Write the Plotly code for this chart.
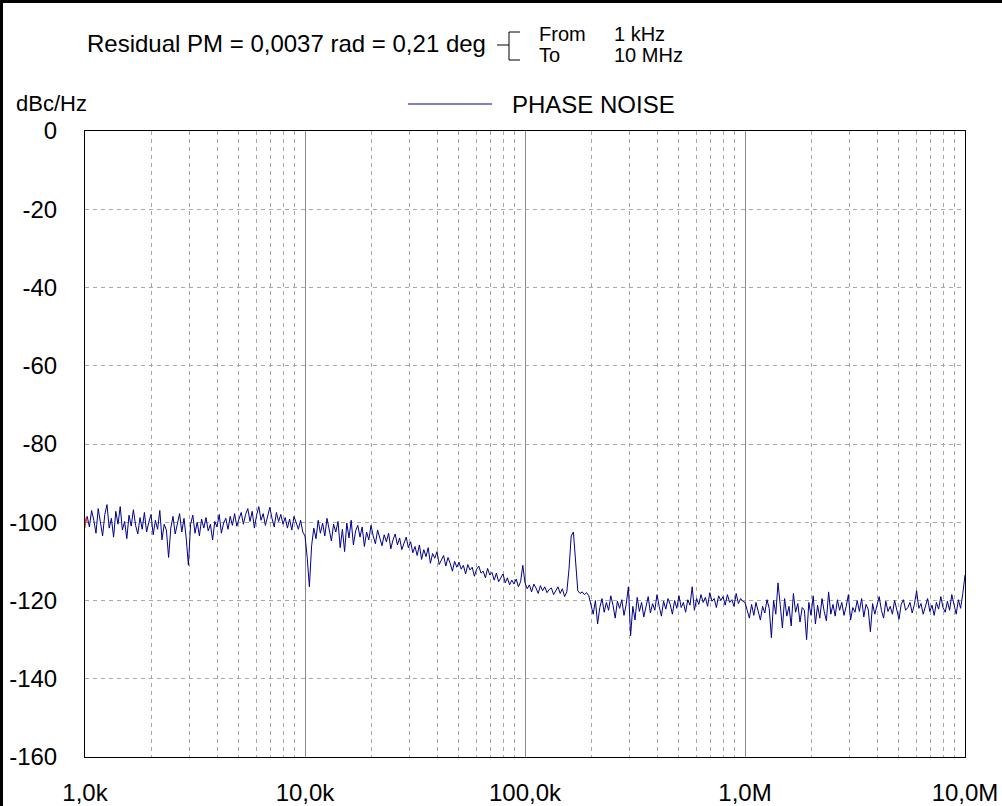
import numpy as np
import plotly.graph_objects as go

# ---------------- data ----------------
# one list of dBc/Hz values per decade, 100 samples per decade (log-spaced sweep)
dec1_1k_10k = [
    -100.0, -98.5, -101.2, -97.0, -99.5, -102.8, -96.5, -100.2, -103.5, -98.0,
    -95.5, -101.5, -99.0, -103.8, -97.2, -100.5, -96.0, -102.0, -99.8, -104.2,
    -98.2, -101.0, -96.8, -100.8, -103.0, -98.8, -101.8, -97.5, -102.5, -100.0,
    -98.0, -103.2, -99.5, -101.8, -97.0, -104.5, -100.5, -102.0, -109.0, -101.5,
    -98.5, -103.0, -100.2, -97.8, -102.5, -99.0, -104.0, -111.0, -100.5, -98.2,
    -102.8, -100.0, -103.5, -99.2, -101.5, -98.8, -102.2, -100.5, -104.5, -99.8,
    -101.2, -98.0, -102.8, -100.2, -99.0, -101.8, -98.5, -100.8, -97.8, -101.0,
    -99.2, -97.5, -100.5, -98.0, -96.5, -99.8, -97.2, -101.5, -98.2, -96.0,
    -99.5, -97.8, -100.8, -98.5, -96.2, -99.0, -101.2, -97.5, -99.8, -98.0,
    -100.5, -98.8, -101.5, -99.2, -102.0, -98.5, -100.2, -101.8, -99.5, -102.5,
]
dec2_10k_100k = [
    -103.5, -109.0, -116.5, -106.0, -101.5, -104.2, -99.5, -102.8, -100.2, -103.5,
    -99.0, -102.0, -104.8, -100.5, -102.5, -99.8, -106.5, -101.8, -107.5, -100.2,
    -104.0, -99.5, -105.8, -102.2, -100.8, -103.8, -101.2, -106.2, -102.5, -104.5,
    -100.8, -103.5, -105.5, -102.0, -104.2, -106.0, -103.2, -105.0, -102.8, -106.8,
    -104.5, -103.0, -105.8, -104.0, -107.0, -105.2, -103.8, -106.5, -105.0, -107.8,
    -106.2, -108.5, -105.8, -109.5, -107.0, -108.8, -106.5, -110.5, -108.0, -109.2,
    -107.5, -110.8, -109.8, -108.5, -111.2, -109.0, -110.5, -112.5, -110.0, -111.5,
    -110.2, -112.0, -111.0, -113.2, -110.8, -112.2, -111.5, -113.8, -112.0, -111.2,
    -113.0, -112.5, -114.2, -111.8, -113.5, -112.8, -114.8, -113.0, -115.2, -114.0,
    -113.2, -115.5, -114.2, -116.0, -114.8, -115.8, -114.5, -116.5, -115.2, -111.0,
]
dec3_100k_1M = [
    -115.5, -117.0, -116.0, -117.8, -115.8, -116.8, -118.2, -116.2, -117.5, -116.5,
    -118.0, -117.2, -116.8, -118.5, -117.5, -116.5, -118.2, -117.0, -119.0, -117.8,
    -112.0, -103.5, -102.5, -110.0, -117.5, -118.2, -117.8, -118.5, -118.0, -118.8,
    -121.5, -123.5, -120.0, -126.0, -121.8, -119.5, -123.0, -120.5, -122.5, -118.8,
    -121.2, -124.5, -120.2, -122.0, -119.8, -123.8, -121.0, -116.5, -129.0, -121.5,
    -125.0, -119.2, -122.8, -120.5, -124.2, -121.8, -119.0, -123.2, -120.8, -122.5,
    -118.5, -121.5, -124.0, -120.2, -122.2, -119.5, -121.0, -123.5, -120.0, -122.0,
    -118.8, -121.8, -120.5, -123.0, -119.8, -121.2, -116.5, -122.5, -119.5, -121.0,
    -118.5, -120.5, -119.2, -121.5, -118.0, -120.2, -119.5, -121.8, -118.8, -120.0,
    -119.0, -121.2, -118.5, -120.5, -119.8, -121.5, -118.2, -120.8, -119.5, -120.2,
]
dec4_1M_10M = [
    -120.5, -122.5, -124.5, -121.0, -123.8, -120.5, -122.8, -125.0, -121.5, -123.2,
    -119.8, -122.0, -129.5, -120.0, -123.5, -115.5, -121.0, -127.0, -119.5, -124.0,
    -121.5, -126.5, -118.2, -123.0, -120.8, -125.5, -121.8, -122.5, -130.0, -120.5,
    -123.8, -118.8, -126.0, -121.2, -124.5, -119.5, -122.8, -125.2, -117.8, -123.5,
    -121.0, -124.0, -119.8, -122.5, -120.5, -123.8, -121.5, -118.5, -125.0, -121.8,
    -123.0, -120.0, -122.8, -119.5, -124.2, -121.0, -122.2, -128.0, -120.8, -123.5,
    -121.2, -119.0, -122.5, -124.5, -120.2, -122.8, -121.5, -123.5, -120.0, -122.2,
    -124.8, -121.0, -119.8, -122.5, -121.8, -120.5, -123.2, -121.0, -117.5, -122.0,
    -120.8, -123.5, -121.5, -119.5, -122.8, -121.2, -123.8, -120.5, -122.2, -119.0,
    -121.8, -123.0, -120.2, -122.5, -118.5, -121.5, -123.5, -119.8, -122.0, -118.2,
    -113.5,
]
phase_noise = dec1_1k_10k + dec2_10k_100k + dec3_100k_1M + dec4_1M_10M
freq = np.logspace(3, 7, len(phase_noise))  # sweep 1 kHz .. 10 MHz

# small red marker trace visible at the very start
red_freq = [1000, 1012, 1024]
red_vals = [-101.5, -98.8, -100.2]

x_tickvals = [1e3, 1e4, 1e5, 1e6, 1e7]
x_ticktext = ["1,0k", "10,0k", "100,0k", "1,0M", "10,0M"]
y_tickvals = [0, -20, -40, -60, -80, -100, -120, -140, -160]
y_ticktext = ["0", "-20", "-40", "-60", "-80", "-100", "-120", "-140", "-160"]

# ---------------- figure ----------------
FONT = "Liberation Sans, Arial, sans-serif"
NAVY = "#00008B"
L, R, T, B = 85, 37, 131, 49
W, H = 1002, 806
PW, PH = W - L - R, H - T - B

def px(x):
    return (x - L) / PW

def py(y):
    return (H - B - y) / PH

fig = go.Figure()
fig.add_trace(go.Scatter(x=freq, y=phase_noise, mode="lines",
                         line=dict(color=NAVY, width=1), name="PHASE NOISE",
                         showlegend=False))
fig.add_trace(go.Scatter(x=red_freq, y=red_vals, mode="lines",
                         line=dict(color="#FF3030", width=1), showlegend=False))

fig.update_layout(
    width=W, height=H,
    margin=dict(l=L, r=R, t=T, b=B, autoexpand=False),
    paper_bgcolor="white", plot_bgcolor="white",
    font=dict(family=FONT, size=24, color="black"),
    xaxis=dict(type="log", range=[3, 7], tickvals=x_tickvals, ticktext=x_ticktext,
               showgrid=True, gridcolor="#8a8a8a", gridwidth=1,
               minor=dict(dtick="D1", showgrid=True, gridcolor="#a8a8a8",
                          griddash="4px,4px", gridwidth=1),
               showline=True, mirror=True, linecolor="black", linewidth=1,
               ticks="", ticklabelstandoff=14, zeroline=False, automargin=False,
               tickfont=dict(family=FONT, size=24)),
    yaxis=dict(range=[-160, 0], tickvals=y_tickvals, ticktext=y_ticktext,
               showgrid=True, gridcolor="#a8a8a8", griddash="4px,4px", gridwidth=1,
               showline=True, mirror=True, linecolor="black", linewidth=1,
               ticks="", ticklabelstandoff=22, zeroline=False, automargin=False,
               tickfont=dict(family=FONT, size=24)),
)

ann = [
    dict(text="Residual PM = 0,0037 rad = 0,21 deg", x=px(85), y=py(44), size=24),
    dict(text="From", x=px(537), y=py(34), size=20),
    dict(text="1 kHz", x=px(612), y=py(34), size=20),
    dict(text="To", x=px(537), y=py(55), size=20),
    dict(text="10 MHz", x=px(612), y=py(55), size=20),
    dict(text="dBc/Hz", x=px(14), y=py(103), size=22),
    dict(text="PHASE NOISE", x=px(510), y=py(104), size=24),
]
for a in ann:
    size = a.pop("size")
    fig.add_annotation(xref="paper", yref="paper", showarrow=False,
                       xanchor="left", yanchor="middle",
                       font=dict(family=FONT, size=size, color="black"), **a)

shapes = [
    # bracket next to the integration range
    dict(x0=px(497), x1=px(509), y0=py(45), y1=py(45)),
    dict(x0=px(509), x1=px(509), y0=py(32), y1=py(60)),
    dict(x0=px(509), x1=px(520), y0=py(32), y1=py(32)),
    dict(x0=px(509), x1=px(520), y0=py(60), y1=py(60)),
]
for s in shapes:
    fig.add_shape(type="line", xref="paper", yref="paper",
                  line=dict(color="black", width=1), **s)
# legend sample line
fig.add_shape(type="line", xref="paper", yref="paper",
              x0=px(408), x1=px(492), y0=py(104), y1=py(104),
              line=dict(color=NAVY, width=1))
# outer frame (left and top edges of the window)
fig.add_shape(type="rect", xref="paper", yref="paper",
              x0=px(0), x1=px(3), y0=py(0), y1=py(806),
              line=dict(width=0), fillcolor="black")
fig.add_shape(type="rect", xref="paper", yref="paper",
              x0=px(0), x1=px(1002), y0=py(0), y1=py(3),
              line=dict(width=0), fillcolor="black")

fig.write_html(
    "out.html",
    config={"displayModeBar": False},
    post_script="document.body.style.margin='0px';"
                "document.body.style.overflow='hidden';",
)
